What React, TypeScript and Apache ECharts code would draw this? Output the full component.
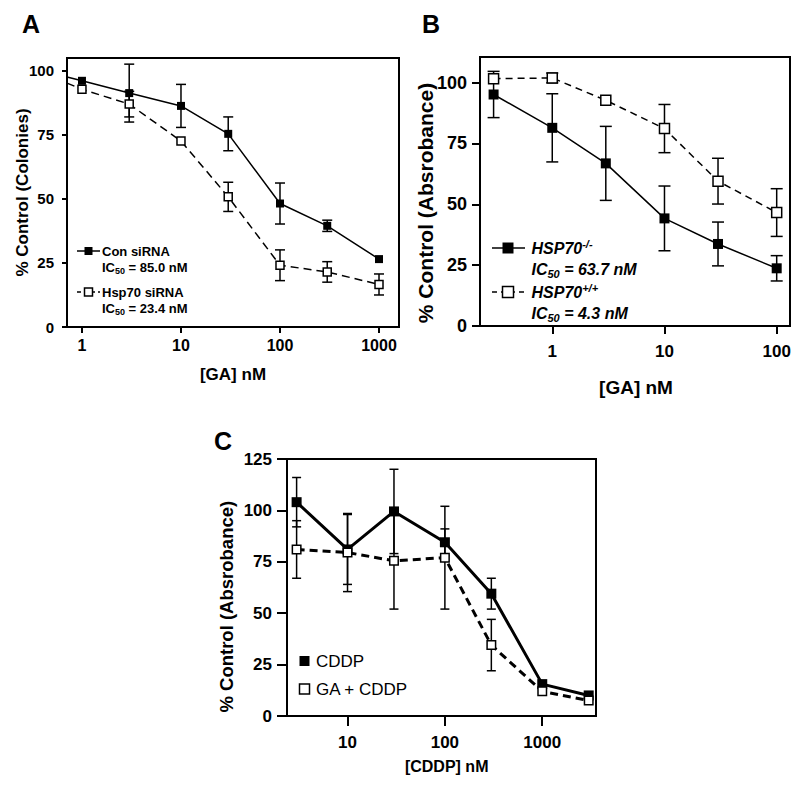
import React, { useEffect, useRef } from "react";
import * as echarts from "echarts";

const FONT = "'Liberation Sans', Arial, Helvetica, sans-serif";

// ---------- Panel A ----------
const aDoses = [1, 3, 10, 30, 100, 300, 1000];
const aConMean = [96.1, 91.3, 86.3, 75.4, 48.2, 39.5, 26.5];
const aConErr = [0, 11.3, 8.4, 6.6, 8, 2.2, 0];
const aHspMean = [92.8, 87, 72.6, 50.8, 24.1, 21.5, 16.6];
const aHspErr = [0, 5, 0, 5.7, 6, 4, 4.1];
// curve start at left edge of axis
const aStartDose = 0.706;
const aConStart = 97.6;
const aHspStart = 95.2;
const aXTicks = [1, 10, 100, 1000];
const aYTicks = [0, 25, 50, 75, 100];

// ---------- Panel B ----------
const bDoses = [0.3, 1, 3, 10, 30, 100];
const bKoMean = [95.1, 81.4, 66.8, 44.2, 33.7, 23.7];
const bKoErr = [9.5, 14, 15.2, 13.3, 9, 5.2];
const bWtMean = [101.6, 101.9, 92.7, 81.1, 59.5, 46.6];
const bWtErr = [0, 2, 0, 9.9, 9.4, 9.8];
const bXTicks = [1, 10, 100];
const bYTicks = [0, 25, 50, 75, 100];

// ---------- Panel C ----------
const cDoses = [3, 10, 30, 100, 300, 1000, 3000];
const cCddpMean = [104, 81, 99.5, 84.5, 59.5, 15.5, 10];
const cCddpErr = [12, 17, 20.5, 6.5, 7.5, 0, 0];
const cGaMean = [81, 79.5, 75.5, 77, 34.5, 12, 7.5];
const cGaErr = [14, 19, 23.5, 25, 12.5, 0, 0];
const cXTicks = [10, 100, 1000];
const cYTicks = [0, 25, 50, 75, 100, 125];

function pts(xs: number[], ys: number[]) {
  return xs.map((x, i) => [x, ys[i]]);
}
function errs(xs: number[], ys: number[], es: number[]) {
  const out: number[][] = [];
  xs.forEach((x, i) => {
    if (es[i] > 0) out.push([x, ys[i] - es[i], ys[i] + es[i]]);
  });
  return out;
}

function errSeries(idx: number, data: number[][], capW: number, lw: number) {
  return {
    type: "custom",
    xAxisIndex: idx,
    yAxisIndex: idx,
    z: 1,
    silent: true,
    clip: false,
    encode: { x: 0, y: [1, 2] },
    data,
    renderItem: (params: any, api: any) => {
      const x = api.value(0);
      const lo = api.value(1);
      const hi = api.value(2);
      const p1 = api.coord([x, hi]);
      const p2 = api.coord([x, lo]);
      const hw = capW / 2;
      const st = { stroke: "#000", lineWidth: lw };
      return {
        type: "group",
        children: [
          { type: "line", shape: { x1: p1[0], y1: p1[1], x2: p2[0], y2: p2[1] }, style: st },
          { type: "line", shape: { x1: p1[0] - hw, y1: p1[1], x2: p1[0] + hw, y2: p1[1] }, style: st },
          { type: "line", shape: { x1: p2[0] - hw, y1: p2[1], x2: p2[0] + hw, y2: p2[1] }, style: st },
        ],
      };
    },
  };
}

function lineSeries(
  idx: number,
  data: any[],
  filled: boolean,
  size: number,
  lw: number,
  dash: number[] | null
) {
  return {
    type: "line",
    xAxisIndex: idx,
    yAxisIndex: idx,
    z: 3,
    data,
    symbol: "rect",
    symbolSize: size,
    showAllSymbol: true,
    itemStyle: filled
      ? { color: "#000", borderColor: "#000", borderWidth: 0 }
      : { color: "#fff", borderColor: "#000", borderWidth: 1.5 },
    lineStyle: { color: "#000", width: lw, type: dash ? dash : "solid" },
    emphasis: { disabled: true },
  };
}

function xAxis(idx: number, min: number, max: number, ticks: number[], tickLen: number, fs: number, margin: number) {
  return {
    type: "log",
    logBase: 10,
    gridIndex: idx,
    min,
    max,
    axisLine: { show: true, lineStyle: { color: "#000", width: 2 } },
    axisTick: { show: true, length: tickLen, lineStyle: { color: "#000", width: 2 }, customValues: ticks },
    axisLabel: {
      customValues: ticks,
      margin,
      fontSize: fs,
      fontWeight: "bold",
      color: "#000",
      fontFamily: FONT,
      formatter: (v: number) => String(Math.round(v)),
    },
    splitLine: { show: false },
    minorTick: { show: false },
  };
}

function yAxis(idx: number, max: number, ticks: number[], tickLen: number, fs: number, margin: number) {
  return {
    type: "value",
    gridIndex: idx,
    min: 0,
    max,
    axisLine: { show: true, lineStyle: { color: "#000", width: 2 } },
    axisTick: { show: true, length: tickLen, lineStyle: { color: "#000", width: 2 }, customValues: ticks },
    axisLabel: {
      customValues: ticks,
      margin,
      fontSize: fs,
      fontWeight: "bold",
      color: "#000",
      fontFamily: FONT,
    },
    splitLine: { show: false },
  };
}

function txt(text: string, x: number, y: number, fs: number, opts: any = {}) {
  return {
    type: "text",
    x,
    y,
    rotation: opts.rotation || 0,
    style: {
      text,
      fill: "#000",
      fontSize: fs,
      fontWeight: opts.weight || "bold",
      fontStyle: opts.italic ? "italic" : "normal",
      fontFamily: FONT,
      align: opts.align || "center",
      verticalAlign: "middle",
      rich: opts.rich,
    },
  };
}

function legendMarker(cx: number, cy: number, size: number, filled: boolean, lineL: number, lineR: number, dash: number[] | null, lw: number) {
  const els: any[] = [];
  if (lineR > lineL) {
    els.push({
      type: "line",
      shape: { x1: lineL, y1: cy, x2: lineR, y2: cy },
      style: { stroke: "#000", lineWidth: lw, lineDash: dash || null },
    });
  }
  els.push({
    type: "rect",
    shape: { x: cx - size / 2, y: cy - size / 2, width: size, height: size },
    style: filled ? { fill: "#000" } : { fill: "#fff", stroke: "#000", lineWidth: 1.5 },
  });
  return els;
}

function icRich(fs: number, italic: boolean) {
  const base = { fontSize: fs, fontWeight: "bold", fontStyle: italic ? "italic" : "normal", fontFamily: FONT, fill: "#000", lineHeight: fs + 4 };
  return {
    n: base,
    s: { fontSize: Math.round(fs * 0.68), fontWeight: "bold", fontStyle: italic ? "italic" : "normal", fontFamily: FONT, fill: "#000", verticalAlign: "bottom" },
    u: { fontSize: Math.round(fs * 0.68), fontWeight: "bold", fontStyle: italic ? "italic" : "normal", fontFamily: FONT, fill: "#000", verticalAlign: "top" },
  };
}

export default function App() {
  const ref = useRef<HTMLDivElement>(null);
  useEffect(() => {
    if (!ref.current) return;
    const chart = echarts.init(ref.current, null, { renderer: "svg" });

    const aCon = [{ value: [aStartDose, aConStart], symbol: "none" }, ...pts(aDoses, aConMean)];
    const aHsp = [{ value: [aStartDose, aHspStart], symbol: "none" }, ...pts(aDoses, aHspMean)];

    const richA = icRich(13, false);
    const richB = icRich(16, true);

    const graphics: any[] = [
      // panel letters
      txt("A", 31, 24, 25),
      txt("B", 431, 24, 25),
      txt("C", 223, 441, 25),
      // axis titles
      txt("% Control (Colonies)", 22.5, 192.5, 17, { rotation: Math.PI / 2 }),
      txt("[GA] nM", 233, 374, 17),
      txt("% Control (Absrobance)", 425.5, 203, 21, { rotation: Math.PI / 2 }),
      txt("[GA] nM", 636, 387, 19),
      txt("% Control (Absrobance)", 226.7, 606.7, 18.5, { rotation: Math.PI / 2 }),
      txt("[CDDP] nM", 446.7, 766.7, 16),
      // legend A
      ...legendMarker(88.5, 251, 8, true, 77, 100, null, 1.5),
      txt("Con siRNA", 102, 251, 13, { align: "left" }),
      txt("{n|IC}{s|50}{n| = 85.0 nM}", 102, 267, 13, { align: "left", rich: richA }),
      ...legendMarker(88.5, 292, 8, false, 77, 100, [4, 3], 1.5),
      txt("Hsp70 siRNA", 102, 292, 13, { align: "left" }),
      txt("{n|IC}{s|50}{n| = 23.4 nM}", 102, 308, 13, { align: "left", rich: richA }),
      // legend B
      ...legendMarker(508, 248, 11, true, 492, 525, null, 1.5),
      txt("{n|HSP70}{u|-/-}", 531.5, 248, 16, { align: "left", rich: richB, italic: true }),
      txt("{n|IC}{s|50}{n| = 63.7 nM}", 531.5, 269, 16, { align: "left", rich: richB, italic: true }),
      ...legendMarker(508, 292, 11, false, 492, 525, [5, 4], 1.5),
      txt("{n|HSP70}{u|+/+}", 531.5, 292, 16, { align: "left", rich: richB, italic: true }),
      txt("{n|IC}{s|50}{n| = 4.3 nM}", 531.5, 313, 16, { align: "left", rich: richB, italic: true }),
      // legend C
      ...legendMarker(304.5, 661, 10, true, 0, 0, null, 1),
      txt("CDDP", 316, 661, 17, { align: "left", weight: "normal" }),
      ...legendMarker(304.5, 689, 10, false, 0, 0, null, 1),
      txt("GA + CDDP", 316, 689, 17, { align: "left", weight: "normal" }),
    ];

    const option: any = {
      animation: false,
      backgroundColor: "#fff",
      textStyle: { fontFamily: FONT },
      grid: [
        { left: 67, top: 58, width: 332, height: 269, show: true, borderColor: "#000", borderWidth: 2, backgroundColor: "transparent" },
        { left: 480, top: 57, width: 310, height: 269, show: true, borderColor: "#000", borderWidth: 2, backgroundColor: "transparent" },
        { left: 287, top: 459, width: 309, height: 257, show: true, borderColor: "#000", borderWidth: 2, backgroundColor: "transparent" },
      ],
      xAxis: [
        xAxis(0, aStartDose, 1592, aXTicks, 6, 16, 10),
        xAxis(1, 0.227, 131.4, bXTicks, 8, 17, 17),
        xAxis(2, 2.39, 3565, cXTicks, 10, 17, 18),
      ],
      yAxis: [
        yAxis(0, 105, aYTicks, 5, 15, 13),
        yAxis(1, 110.5, bYTicks, 8, 18, 13),
        yAxis(2, 125, cYTicks, 10, 17, 15),
      ],
      graphic: graphics,
      series: [
        errSeries(0, errs(aDoses, aConMean, aConErr), 10, 1.5),
        errSeries(0, errs(aDoses, aHspMean, aHspErr), 10, 1.5),
        lineSeries(0, aCon, true, 8, 1.5, null),
        lineSeries(0, aHsp, false, 8, 1.5, [8, 5]),

        errSeries(1, errs(bDoses, bKoMean, bKoErr), 12, 1.5),
        errSeries(1, errs(bDoses, bWtMean, bWtErr), 12, 1.5),
        lineSeries(1, pts(bDoses, bKoMean), true, 10, 1.5, null),
        lineSeries(1, pts(bDoses, bWtMean), false, 10, 1.5, [7, 5]),

        errSeries(2, errs(cDoses, cCddpMean, cCddpErr), 9, 1.5),
        errSeries(2, errs(cDoses, cGaMean, cGaErr), 9, 1.5),
        lineSeries(2, pts(cDoses, cCddpMean), true, 10, 3, null),
        lineSeries(2, pts(cDoses, cGaMean), false, 8.5, 3, [8, 5]),
      ],
    };
    chart.setOption(option);
    return () => chart.dispose();
  }, []);
  return (
    <div
      ref={ref}
      style={{ position: "absolute", left: 0, top: 0, width: 800, height: 786, background: "#fff" }}
    />
  );
}
